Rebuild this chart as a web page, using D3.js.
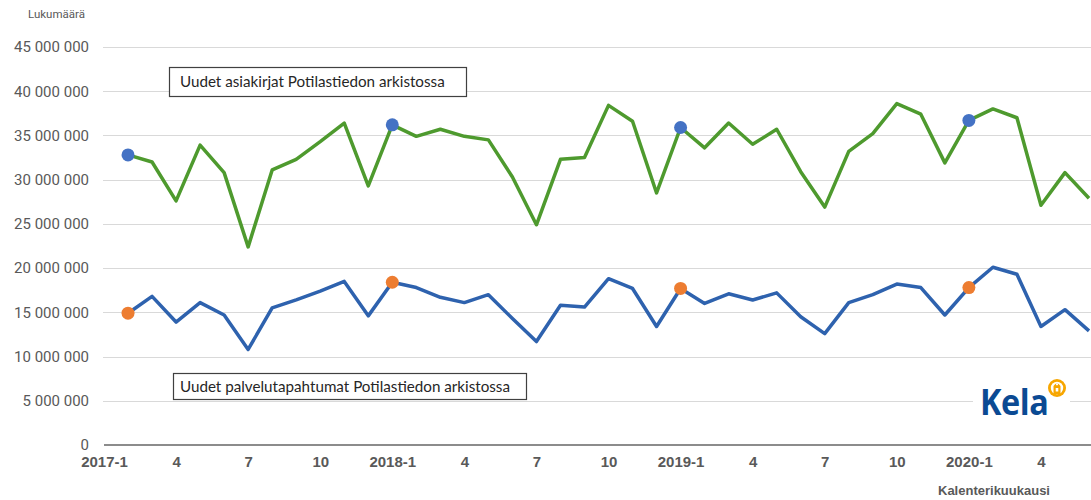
<!DOCTYPE html>
<html>
<head>
<meta charset="utf-8">
<script src="https://cdn.jsdelivr.net/npm/d3@7"></script>
<style>
  html, body { margin: 0; padding: 0; background: #fff; }
  svg { display: block; }
</style>
</head>
<body>
<svg id="chart" width="1091" height="500"></svg>
<script>
// ---- Data ----
// month indices (0 = 2017-1); series start at 2017-2 as in the picture
const startIndex = 1;
const asiakirjat = [
  32.8, 32.0, 27.6, 33.9, 30.8, 22.4, 31.1, 32.3, 34.3, 36.4, 29.3,
  36.2, 34.9, 35.7, 34.9, 34.5, 30.3, 24.9, 32.3, 32.5, 38.4, 36.6, 28.5,
  35.9, 33.6, 36.4, 34.0, 35.7, 30.9, 26.9, 33.2, 35.2, 38.6, 37.4, 31.9,
  36.7, 38.0, 37.0, 27.1, 30.8, 27.9
].map(v => v * 1e6);
const palvelutapahtumat = [
  14.9, 16.8, 13.9, 16.1, 14.7, 10.8, 15.5, 16.4, 17.4, 18.5, 14.6,
  18.4, 17.8, 16.7, 16.1, 17.0, 14.3, 11.7, 15.8, 15.6, 18.8, 17.7, 13.4,
  17.7, 16.0, 17.1, 16.4, 17.2, 14.5, 12.6, 16.1, 17.0, 18.2, 17.8, 14.7,
  17.8, 20.1, 19.3, 13.4, 15.3, 12.9
].map(v => v * 1e6);
const highlightPositions = [0, 11, 23, 35];
const xTickIndices = [0, 3, 6, 9, 12, 15, 18, 21, 24, 27, 30, 33, 36, 39];
const xTickLabels = ["2017-1", "4", "7", "10", "2018-1", "4", "7", "10", "2019-1", "4", "7", "10", "2020-1", "4"];
const yTicks = [0, 5e6, 10e6, 15e6, 20e6, 25e6, 30e6, 35e6, 40e6, 45e6];
const legendLabels = ["Uudet asiakirjat Potilastiedon arkistossa", "Uudet palvelutapahtumat Potilastiedon arkistossa"];
const yAxisTitle = "Lukumäärä";
const xAxisTitle = "Kalenterikuukausi";

// ---- Layout ----
const svg = d3.select("#chart");
const plotLeft = 104, plotRight = 1091, plotTop = 47, plotBottom = 445;

const x = d3.scaleLinear().domain([0, 41]).range([plotLeft, 1089]);
const y = d3.scaleLinear().domain([0, 45e6]).range([plotBottom, plotTop]);

const fmt = v => d3.format(",")(v).replace(/,/g, " ");

// gridlines
svg.append("g").selectAll("line").data(yTicks.filter(d => d > 0)).join("line")
  .attr("x1", plotLeft - 1).attr("x2", plotRight)
  .attr("y1", d => Math.round(y(d)) + 0.5).attr("y2", d => Math.round(y(d)) + 0.5)
  .attr("stroke", "#d9d9d9").attr("stroke-width", 1.2);

// y axis labels
const yAxis = d3.axisLeft(y).tickValues(yTicks).tickFormat(fmt).tickSize(0).tickPadding(0);
const yg = svg.append("g").attr("transform", `translate(${plotLeft - 15},0)`).call(yAxis);
yg.select(".domain").remove();
yg.selectAll("text").attr("fill", "#595959").style("font-family", "Roboto, 'Liberation Sans', Arial, sans-serif").style("font-size", "15px");

// x axis baseline
svg.append("line").attr("x1", plotLeft).attr("x2", plotRight)
  .attr("y1", plotBottom).attr("y2", plotBottom)
  .attr("stroke", "#8c8c8c").attr("stroke-width", 2.2);

// x axis labels
const xAxis = d3.axisBottom(x).tickValues(xTickIndices).tickFormat((d, i) => xTickLabels[i]).tickSize(0).tickPadding(0);
const xg = svg.append("g").attr("transform", `translate(0,${plotBottom + 11})`).call(xAxis);
xg.select(".domain").remove();
xg.selectAll("text").attr("fill", "#595959").style("font-family", "'Liberation Sans', Arial, sans-serif").style("font-size", "15px").style("font-weight", "bold");

// axis titles
svg.append("text").attr("x", 28).attr("y", 18).text(yAxisTitle)
  .attr("fill", "#595959").style("font-family", "Roboto, 'Liberation Sans', Arial, sans-serif").style("font-size", "11.5px");
svg.append("text").attr("x", 938).attr("y", 495).text(xAxisTitle)
  .attr("fill", "#595959").style("font-family", "'Liberation Sans', Arial, sans-serif").style("font-size", "13px").style("font-weight", "bold");

// lines
const line = d3.line().x((d, i) => x(i + startIndex)).y(d => y(d));
svg.append("path").datum(asiakirjat).attr("d", line)
  .attr("fill", "none").attr("stroke", "#4E9A2E").attr("stroke-width", 3.5).attr("stroke-linejoin", "round");
svg.append("path").datum(palvelutapahtumat).attr("d", line)
  .attr("fill", "none").attr("stroke", "#2E62AE").attr("stroke-width", 3.5).attr("stroke-linejoin", "round");

// highlight markers
svg.append("g").selectAll("circle").data(highlightPositions).join("circle")
  .attr("cx", p => x(p + startIndex)).attr("cy", p => y(asiakirjat[p])).attr("r", 6.5)
  .attr("fill", "#4472C4");
svg.append("g").selectAll("circle").data(highlightPositions).join("circle")
  .attr("cx", p => x(p + startIndex)).attr("cy", p => y(palvelutapahtumat[p])).attr("r", 6.5)
  .attr("fill", "#ED7D31");

// label boxes
function labelBox(txt, bx, by, bw, bh, tx) {
  const g = svg.append("g");
  g.append("rect").attr("x", bx + 0.5).attr("y", by + 0.5).attr("width", bw).attr("height", bh)
    .attr("fill", "#fff").attr("stroke", "#404040").attr("stroke-width", 1.2);
  g.append("text").attr("x", tx).attr("y", by + bh / 2 + 5.5).text(txt)
    .attr("fill", "#262626").style("font-family", "Lato, 'Open Sans', sans-serif").style("font-size", "15.2px");
}
labelBox(legendLabels[0], 169, 67, 297, 29, 180);
labelBox(legendLabels[1], 173, 373, 353, 26, 180);

// Kela logo
const logo = svg.append("g");
logo.append("rect").attr("x", 973).attr("y", 374).attr("width", 97).attr("height", 53).attr("fill", "#fff");
logo.append("text").attr("transform", "translate(980,415) scale(0.9,1)").text("Kela")
  .attr("fill", "#0B4A93").style("font-family", "'Open Sans', 'Liberation Sans', sans-serif")
  .style("font-size", "36px").style("font-weight", "bold").style("letter-spacing", "-0.5px");
logo.append("circle").attr("cx", 1057).attr("cy", 388).attr("r", 9).attr("fill", "#F7A600");
logo.append("circle").attr("cx", 1057).attr("cy", 388).attr("r", 6.2).attr("fill", "#fff");
logo.append("path").attr("d", "M1053.5,394 L1053.5,386 Q1057,380.5 1060.5,386 L1060.5,394 Z M1055.7,388 h2.6 v3.5 h-2.6 Z")
  .attr("fill", "#F7A600").attr("fill-rule", "evenodd");
logo.append("circle").attr("cx", 1057).attr("cy", 384.3).attr("r", 1.1).attr("fill", "#fff");
</script>
</body>
</html>
